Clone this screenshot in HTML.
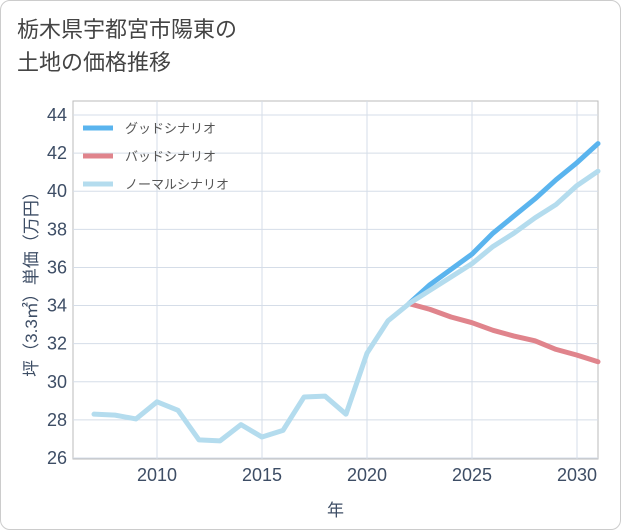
<!DOCTYPE html>
<html><head><meta charset="utf-8"><style>
body{margin:0;background:#fff;font-family:"Liberation Sans","Noto Sans CJK JP",sans-serif;}
#card{position:absolute;left:0;top:0;width:619px;height:528px;border:1px solid #ccc;border-radius:10px;background:#fff;}
#title{position:absolute;left:16px;top:12px;font-size:22px;line-height:33px;color:#444;}
</style></head><body>
<div id="card">
<div id="title">栃木県宇都宮市陽東の<br>土地の価格推移</div>
<svg id="svg" width="621" height="530" style="position:absolute;left:0;top:0"></svg>
</div>
<script>
const years=[2007,2008,2009,2010,2011,2012,2013,2014,2015,2016,2017,2018,2019,2020,2021,2022,2023,2024,2025,2026,2027,2028,2029,2030,2031];
const normal=[28.3,28.25,28.05,28.95,28.5,26.95,26.9,27.75,27.1,27.45,29.2,29.25,28.3,31.5,33.2,34.1,34.8,35.5,36.2,37.1,37.8,38.6,39.3,40.3,41.05];
const futYears=[2022,2023,2024,2025,2026,2027,2028,2029,2030,2031];
const good=[34.1,35.1,35.9,36.7,37.8,38.7,39.6,40.6,41.5,42.5];
const bad=[34.1,33.8,33.4,33.1,32.7,32.4,32.15,31.7,31.4,31.05];
const yTicks=[26,28,30,32,34,36,38,40,42,44];
const xTicks=[2010,2015,2020,2025,2030];
const legendLabels=["グッドシナリオ","バッドシナリオ","ノーマルシナリオ"];
const L=72,R=597,T=100,B=458;
const x=v=>L+(v-2006)/(2031-2006)*(R-L);
const y=v=>457-(v-26)/(44-26)*(457-114);
const svg=document.getElementById('svg');
const NS='http://www.w3.org/2000/svg';
function mk(t,a){const e=document.createElementNS(NS,t);for(const k in a)e.setAttribute(k,a[k]);svg.appendChild(e);return e;}
let bg=mk('rect',{x:L,y:T,width:R-L,height:B-T,fill:'#fff',stroke:'#bbb'});


for(const t of yTicks){
 const g=mk('line',{x1:L,x2:R,y1:y(t),y2:y(t),stroke:'#d5dde8'});
 
 
 const tx=mk('text',{x:L-6,y:y(t)+6,'text-anchor':'end','font-size':18,fill:'#3d4d65'});tx.textContent=t;
 
 
}
for(const t of xTicks){
 const g=mk('line',{x1:x(t),x2:x(t),y1:T,y2:B,stroke:'#d5dde8'});
 
 
 const tx=mk('text',{x:x(t),y:B+22,'text-anchor':'middle','font-size':18,fill:'#3d4d65'});tx.textContent=t;
 
 
}
const xt=mk('text',{x:(L+R)/2,y:515,'text-anchor':'middle','font-size':17,fill:'#3d4d65'});xt.textContent='年';


const yt=mk('text',{x:0,y:0,'text-anchor':'middle','font-size':17,fill:'#3d4d65',transform:`translate(36,${(T+B)/2}) rotate(-90)`});yt.textContent='坪（3.3㎡）単価（万円）';


function line(xs,vs,c,name){
 const p=mk('polyline',{points:xs.map((v,i)=>x(v)+','+y(vs[i])).join(' '),fill:'none',stroke:c,'stroke-width':5,'stroke-linejoin':'round','stroke-linecap':'round'});
 
 
}
line(futYears,bad,'#e0848c','bad-scenario-line');
line(futYears,good,'#5ab4ee','good-scenario-line');
line(years,normal,'#b4dcee','normal-scenario-line');
const cols=['#5ab4ee','#e0848c','#b4dcee'];
legendLabels.forEach((lb,i)=>{
 const ly=127+i*28;
 const l=mk('line',{x1:82,x2:112,y1:ly,y2:ly,stroke:cols[i],'stroke-width':5});
 
 
 const t=mk('text',{x:124,y:ly+5,'font-size':13,fill:'#555'});t.textContent=lb;
 
 
});
</script>
</body></html>
